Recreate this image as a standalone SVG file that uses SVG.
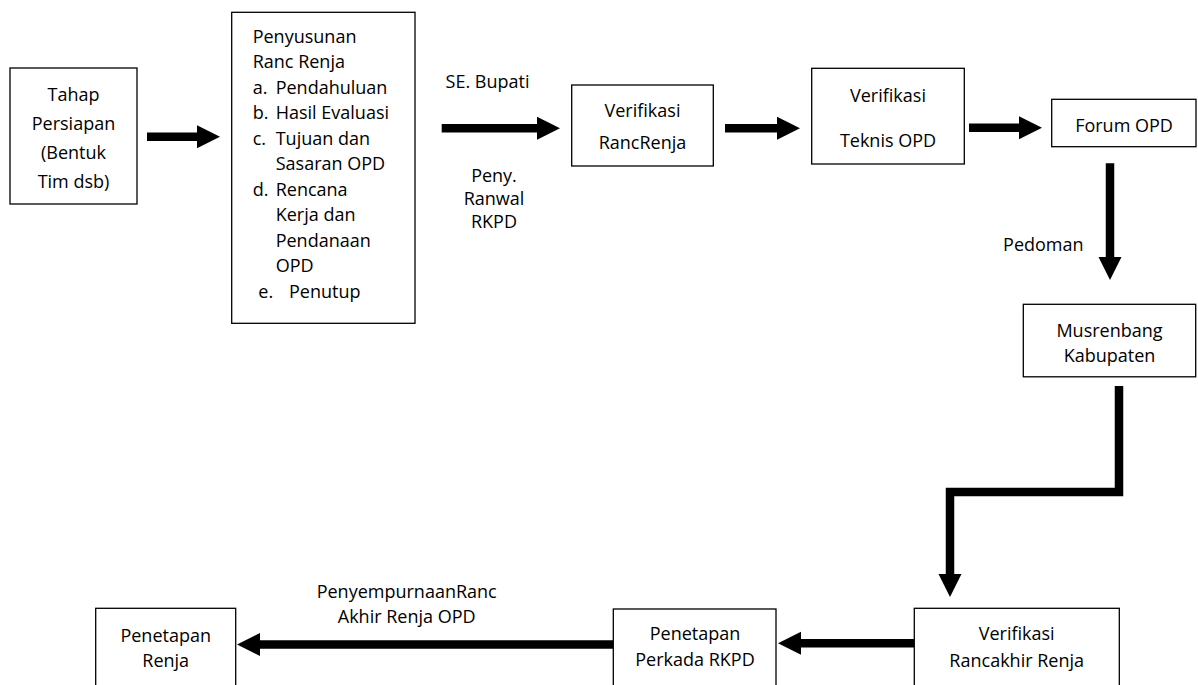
<svg xmlns="http://www.w3.org/2000/svg" width="1198" height="685" viewBox="0 0 1198 685">
<style>
.box{fill:#fff;stroke:#000;stroke-width:1.3}
.t{font-family:"Open Sans","Liberation Sans",sans-serif;font-size:18px;fill:#000}
.c{text-anchor:middle}
.conn{fill:none;stroke:#000;stroke-width:8.5;stroke-linejoin:miter}
</style>
<defs>
<marker id="ah" markerUnits="userSpaceOnUse" markerWidth="24" markerHeight="24" viewBox="0 -12 24 24" refX="1" refY="0" orient="auto">
<path d="M0,-11.5 L23,0 L0,11.5 z" fill="#000"/>
</marker>
</defs>
<rect width="1198" height="685" fill="#fff"/>
<g id="connectors">
<line class="conn" x1="147" y1="136.7" x2="198" y2="136.7" marker-end="url(#ah)"/>
<line class="conn" x1="441.7" y1="128.3" x2="538" y2="128.3" marker-end="url(#ah)"/>
<line class="conn" x1="725" y1="128.3" x2="778" y2="128.3" marker-end="url(#ah)"/>
<line class="conn" x1="969" y1="127.7" x2="1020" y2="127.7" marker-end="url(#ah)"/>
<line class="conn" x1="1110" y1="163.3" x2="1110" y2="258" marker-end="url(#ah)"/>
<path class="conn" d="M1119,386 V492 H950 V575" marker-end="url(#ah)"/>
<line class="conn" x1="914" y1="643.3" x2="800" y2="643.3" marker-end="url(#ah)"/>
<line class="conn" x1="613" y1="644.5" x2="259" y2="644.5" marker-end="url(#ah)"/>
<text class="t c" x="487.5" y="88.3">SE. Bupati</text>
<text class="t c" x="494" y="181.7">Peny.</text>
<text class="t c" x="494" y="205">Ranwal</text>
<text class="t c" x="494" y="228.3">RKPD</text>
<text class="t c" x="1043.3" y="250.5">Pedoman</text>
<text class="t c" x="406.7" y="598.3">PenyempurnaanRanc</text>
<text class="t c" x="406.7" y="623.3">Akhir Renja OPD</text>
</g>
<g id="tahap-persiapan">
<rect class="box" x="10" y="68" width="127" height="136"/>
<text class="t c" x="73.5" y="100.7">Tahap</text>
<text class="t c" x="73.5" y="129.7">Persiapan</text>
<text class="t c" x="73.5" y="159">(Bentuk</text>
<text class="t c" x="73.5" y="188">Tim dsb)</text>
</g>
<g id="penyusunan">
<rect class="box" x="231.7" y="12.3" width="183.3" height="311"/>
<text class="t" x="252.7" y="42.5">Penyusunan</text>
<text class="t" x="252.7" y="68">Ranc Renja</text>
<text class="t" x="252.7" y="93.5">a.</text><text class="t" x="275.7" y="93.5">Pendahuluan</text>
<text class="t" x="252.7" y="119">b.</text><text class="t" x="275.7" y="119">Hasil Evaluasi</text>
<text class="t" x="252.7" y="144.5">c.</text><text class="t" x="275.7" y="144.5">Tujuan dan</text>
<text class="t" x="275.7" y="170">Sasaran OPD</text>
<text class="t" x="252.7" y="195.5">d.</text><text class="t" x="275.7" y="195.5">Rencana</text>
<text class="t" x="275.7" y="221">Kerja dan</text>
<text class="t" x="275.7" y="246.5">Pendanaan</text>
<text class="t" x="275.7" y="272">OPD</text>
<text class="t" x="258.3" y="297.5">e.</text><text class="t" x="289" y="297.5">Penutup</text>
</g>
<g id="verifikasi-rancrenja">
<rect class="box" x="571.7" y="85" width="141.6" height="81"/>
<text class="t c" x="642.5" y="117">Verifikasi</text>
<text class="t c" x="642.5" y="148.5">RancRenja</text>
</g>
<g id="verifikasi-teknis">
<rect class="box" x="811.7" y="68.3" width="152.6" height="95.7"/>
<text class="t c" x="888" y="102.3">Verifikasi</text>
<text class="t c" x="888" y="147">Teknis OPD</text>
</g>
<g id="forum-opd">
<rect class="box" x="1051.7" y="99.3" width="144.3" height="47.4"/>
<text class="t c" x="1124" y="131.5">Forum OPD</text>
</g>
<g id="musrenbang">
<rect class="box" x="1023.3" y="304.3" width="172.4" height="72.5"/>
<text class="t c" x="1109.5" y="337.3">Musrenbang</text>
<text class="t c" x="1109.5" y="361.7">Kabupaten</text>
</g>
<g id="verifikasi-rancakhir">
<rect class="box" x="914.3" y="608.3" width="205" height="95"/>
<text class="t c" x="1016.7" y="640">Verifikasi</text>
<text class="t c" x="1016.7" y="666.5">Rancakhir Renja</text>
</g>
<g id="penetapan-perkada">
<rect class="box" x="613.3" y="609" width="162.7" height="95"/>
<text class="t c" x="695" y="640">Penetapan</text>
<text class="t c" x="695" y="665.5">Perkada RKPD</text>
</g>
<g id="penetapan-renja">
<rect class="box" x="95.7" y="608.3" width="140" height="95"/>
<text class="t c" x="165.7" y="641.7">Penetapan</text>
<text class="t c" x="165.7" y="666.7">Renja</text>
</g>
</svg>
